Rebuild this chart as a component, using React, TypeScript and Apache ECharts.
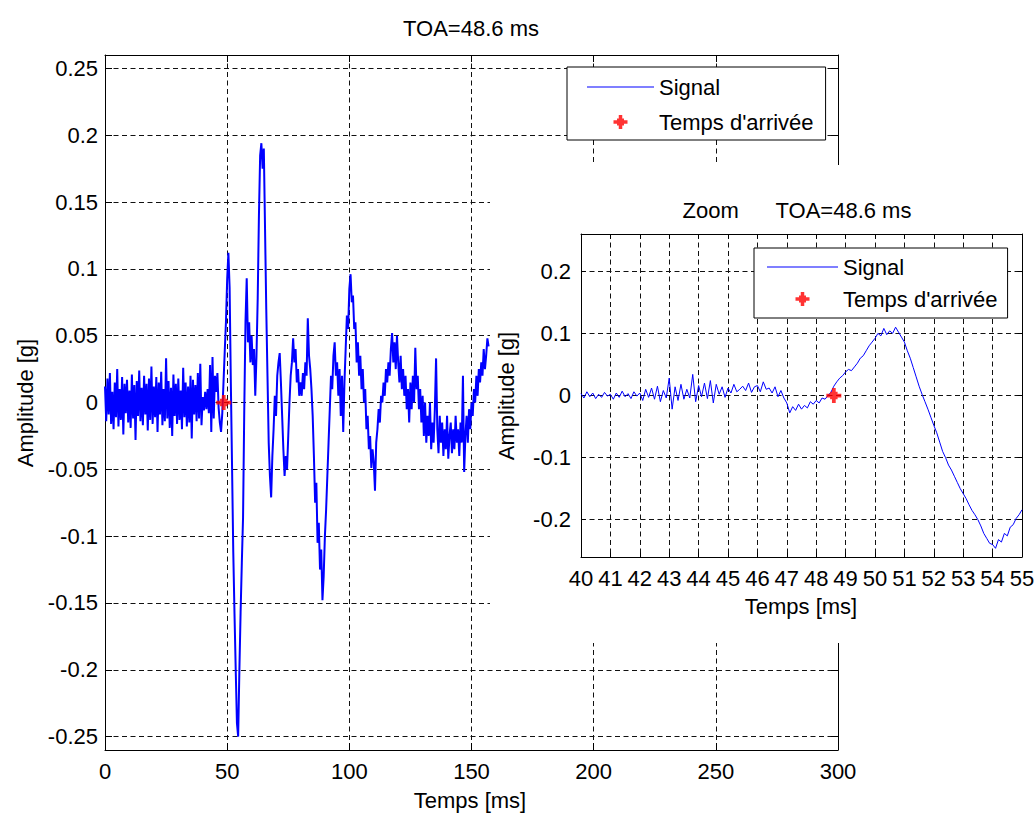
import React, { useEffect, useRef } from 'react';
import * as echarts from 'echarts';

// ---------------- DATA ----------------
// Main recording: amplitude in milli-g, one sample every 0.5 ms starting at 0 ms
const MAIN_START_MS = 0;
const MAIN_STEP_MS = 0.5;
const mainSignalMg = [
  // 0 - 9.5 ms
  12, -14, 18, -9, 22, -16, 8, -20, 15, -11, 25, -18, 10, -13, 19, -24, 14, -8, 17, -15,
  // 10 - 19.5
  9, -19, 21, -12, 13, -28, 16, -10, 24, -14, 11, -17, 20, -9, 14, -21, 18, -13, 27, -16,
  // 20 - 29.5
  12, -11, 19, -22, 15, -9, 23, -17, 10, -14, 33, -12, 16, -19, 11, -25, 21, -10, 14, -16,
  // 30 - 39.5
  18, -13, 9, -20, 26, -11, 15, -18, 12, -15, 20, -27, 17, -9, 13, -14, 22, -12, 29, -17,
  // 40 - 46.5
  4, -6, 8, -5, 10, -8, 28, -22, 34, -12, 20, 8, 22, -4,
  // 47 - 56.5
  -15, -22, -8, 15, 38, 60, 92, 112, 86, 15, -48, -112, -158, -200, -240, -250, -200, -157, -120, -86,
  // 57 - 66.5
  -5, 60, 93, 45, 60, 30, 50, 28, 40, 5, 35, 78, 140, 185, 194, 175, 190, 130, 70, 20,
  // 67 - 76.5
  -30, -55, -71, -40, -20, 5, -10, 20, 30, 37, 15, -10, -35, -55, -40, -50, -25, 0, 20, 30,
  // 77 - 86.5
  48, 30, 40, 15, 25, 5, 15, 5, 22, 10, 30, 20, 63, 35, 25, 10, -10, -40, -75, -60,
  // 87 - 96.5
  -105, -90, -125, -110, -148, -130, -100, -80, -55, -30, -5, 20, 10, 35, 45, 20, 30, 5, 25, -10,
  // 97 - 106.5
  20, -22, 15, 40, 65, 55, 85, 96, 75, 80, 55, 60, 30, 45, 20, 35, 10, 25, 0, 10,
  // 107 - 116.5
  -20, -10, -35, -25, -49, -35, -45, -66, -30, -20, -5, -15, 5, 0, 15, 5, 25, 15, 30, 20,
  // 117 - 126.5
  40, 52, 30, 45, 25, 50, 30, 15, 35, 10, 25, 5, 20, -5, 10, -15, 15, -5, 20, 0,
  // 127 - 136.5
  41, 10, 20, -5, 10, -15, 5, -25, 0, -30, -10, -25, 0, -35, -15, -30, -5, 33, -20, -38,
  // 137 - 146.5
  -10, -30, -15, -40, -20, -35, -10, -42, -25, -15, -38, -20, -35, -10, -30, -20, -40, -15, -30, 20,
  // 147 - 157
  -52, -25, -10, -30, -5, -20, 0, -10, 10, 0, 20, 5, 25, 15, 30, 20, 40, 25, 35, 48, 42,
];

// Zoom window: amplitude in milli-g, one sample every 0.1 ms from 40 ms to 55 ms
const INSET_START_MS = 40;
const INSET_STEP_MS = 0.1;
const insetSignalMg = [
  3, -4, 6, -2, 4, -5, 2, -3, 5, -1,
  2, -6, 4, -3, 7, -2, 3, -5, 6, -1,
  4, -8, 10, -3, 12, -6, 15, -10, 8, -4,
  28, -22, 14, -8, 18, -6, 10, -4, 34, -10,
  16, -2, 20, -5, 24, -12, 18, 2, 14, -3,
  12, 4, 18, 6, 10, 15, 8, 20, 5, 14,
  16, 6, 22, 10, 12, 4, 14, -2, 8, -4,
  -12, -28, -18, -24, -14, -22, -16, -20, -10, -14,
  -8, -12, -4, -6, 0, 5, 15, 22, 28, 32,
  38, 42, 40, 46, 52, 60, 64, 72, 80, 86,
  92, 100, 96, 108, 98, 104, 100, 110, 102, 94,
  86, 72, 60, 45, 30, 15, 2, -10, -22, -35,
  -48, -60, -75, -90, -100, -112, -120, -130, -140, -150,
  -158, -166, -176, -185, -192, -200, -210, -222, -230, -238,
  -240, -246, -232, -236, -222, -226, -212, -208, -198, -192,
  -184,
];

// Time of arrival marker
const toaTimeMs = [48.6];
const toaAmpG = [0];

// Axes
const mainXRange = [0, 300];
const mainXInterval = 50;
const mainYRange = [-0.26, 0.26];
const mainYTicks = [-0.25, -0.2, -0.15, -0.1, -0.05, 0, 0.05, 0.1, 0.15, 0.2, 0.25];
const insetXRange = [40, 55];
const insetXInterval = 1;
const insetYRange = [-0.26, 0.26];
const insetYTicks = [-0.2, -0.1, 0, 0.1, 0.2];

const mainTitle = 'TOA=48.6 ms';
const insetTitle = 'Zoom\u00a0\u00a0\u00a0\u00a0\u00a0\u00a0TOA=48.6 ms';
const xName = 'Temps [ms]';
const yName = 'Amplitude [g]';
const signalName = 'Signal';
const toaName = "Temps d'arrivée";

// ---------------- STYLE ----------------
const FONT = "'Liberation Sans', Arial, Helvetica, sans-serif";
const FS = 22;
const BLUE = '#0000ff';
const RED = '#ff0000';
const TOA_SYMBOL = 'path://M4.5,0H7.5V3H9V4.5H12V7.5H9V9H7.5V12H4.5V9H3V7.5H0V4.5H3V3H4.5Z';
const LINE_ICON = 'path://M0,0H70V1.1H0Z';

const fmt = (v: number) => String(Math.round(v * 1000) / 1000);

const gridLine = { show: true, lineStyle: { color: '#111', type: [5, 3.5], width: 1 } };
const axisLineStyle = { show: true, onZero: false, lineStyle: { color: '#000', width: 1 } };

function xAxisDef(grid: number, range: number[], interval: number, pos: string, labels: boolean, tickLen: number, z: number) {
  return {
    type: 'value', gridIndex: grid, min: range[0], max: range[1], interval, position: pos, z,
    axisLine: axisLineStyle,
    axisTick: { show: true, inside: true, length: tickLen, lineStyle: { color: '#000', width: 1 } },
    axisLabel: { show: labels, margin: 10, color: '#000', fontSize: FS, fontFamily: FONT, formatter: fmt },
    splitLine: labels ? gridLine : { show: false },
  };
}

function yAxisDef(grid: number, range: number[], ticks: number[], pos: string, labels: boolean, tickLen: number, margin: number, z: number) {
  return {
    type: 'value', gridIndex: grid, min: range[0], max: range[1], position: pos, z,
    axisLine: axisLineStyle,
    axisTick: { show: true, inside: true, length: tickLen, customValues: ticks, lineStyle: { color: '#000', width: 1 } },
    axisLabel: { show: labels, customValues: ticks, margin, color: '#000', fontSize: FS, fontFamily: FONT, formatter: fmt },
    splitLine: labels ? gridLine : { show: false },
  };
}

function text(t: string, x: number, y: number, rotation = 0) {
  return {
    type: 'text', x, y, rotation, z: 30, silent: true,
    style: { text: t, fill: '#000', fontSize: FS, fontFamily: FONT, align: 'center', verticalAlign: 'middle' },
  };
}

export default function App() {
  const ref = useRef<HTMLDivElement>(null);

  useEffect(() => {
    if (!ref.current) return;
    const chart = echarts.init(ref.current, undefined, { renderer: 'svg' });

    const mainData = mainSignalMg.map((v, i) => [MAIN_START_MS + i * MAIN_STEP_MS, v / 1000]);
    const insetData = insetSignalMg.map((v, i) => [
      Math.round((INSET_START_MS + i * INSET_STEP_MS) * 10) / 10,
      v / 1000,
    ]);
    const toaData = toaTimeMs.map((t, i) => [t, toaAmpG[i]]);

    const legendCommon = {
      orient: 'vertical',
      backgroundColor: '#fff',
      borderColor: '#000',
      borderWidth: 1,
      borderRadius: 0,
      itemHeight: 14,
      selectedMode: false,
      z: 20,
      textStyle: { color: '#000', fontSize: FS, fontFamily: FONT, lineHeight: 22 },
      data: [
        { name: signalName, icon: LINE_ICON, itemStyle: { color: BLUE } },
        { name: toaName, icon: TOA_SYMBOL, itemStyle: { color: RED } },
      ],
    };

    chart.setOption({
      animation: false,
      backgroundColor: '#fff',
      textStyle: { fontFamily: FONT },
      grid: [
        { left: 105, top: 55, width: 733, height: 695, containLabel: false, outerBoundsMode: 'none' },
        { left: 581, top: 234, width: 441, height: 323, containLabel: false, outerBoundsMode: 'none', z: 10 },
      ],
      xAxis: [
        xAxisDef(0, mainXRange, mainXInterval, 'bottom', true, 7, 0),
        xAxisDef(0, mainXRange, mainXInterval, 'top', false, 7, 0),
        xAxisDef(1, insetXRange, insetXInterval, 'bottom', true, 4.5, 10),
        xAxisDef(1, insetXRange, insetXInterval, 'top', false, 4.5, 10),
      ],
      yAxis: [
        yAxisDef(0, mainYRange, mainYTicks, 'left', true, 7, 7, 0),
        yAxisDef(0, mainYRange, mainYTicks, 'right', false, 7, 7, 0),
        yAxisDef(1, insetYRange, insetYTicks, 'left', true, 4.5, 10, 10),
        yAxisDef(1, insetYRange, insetYTicks, 'right', false, 4.5, 10, 10),
      ],
      legend: [
        { ...legendCommon, left: 567, top: 67, padding: [9, 12, 7, 20], itemGap: 13, itemWidth: 67 },
        { ...legendCommon, left: 754, top: 248, padding: [8, 10, 8, 13], itemGap: 10, itemWidth: 71 },
      ],
      graphic: {
        elements: [
          { type: 'rect', z: 5, silent: true, shape: { x: 490, y: 165, width: 545, height: 478 }, style: { fill: '#fff' } },
          text(mainTitle, 471, 28),
          text(xName, 470, 800),
          text(yName, 25, 403, Math.PI / 2),
          text(insetTitle, 797, 210),
          text(xName, 801, 606),
          text(yName, 506, 396, Math.PI / 2),
        ],
      },
      series: [
        {
          type: 'line', name: signalName, xAxisIndex: 0, yAxisIndex: 0, data: mainData,
          symbol: 'none', lineStyle: { color: BLUE, width: 2 }, itemStyle: { color: BLUE }, z: 2,
        },
        {
          type: 'scatter', name: toaName, xAxisIndex: 0, yAxisIndex: 0, data: toaData,
          symbol: TOA_SYMBOL, symbolSize: 15, itemStyle: { color: RED }, z: 3,
        },
        {
          type: 'line', name: signalName, xAxisIndex: 2, yAxisIndex: 2, data: insetData,
          symbol: 'none', lineStyle: { color: BLUE, width: 1 }, itemStyle: { color: BLUE }, z: 12,
        },
        {
          type: 'scatter', name: toaName, xAxisIndex: 2, yAxisIndex: 2, data: toaData,
          symbol: TOA_SYMBOL, symbolSize: 15, itemStyle: { color: RED }, z: 13,
        },
      ],
    });

    return () => chart.dispose();
  }, []);

  return (
    <div
      ref={ref}
      style={{ position: 'absolute', left: 0, top: 0, width: 1035, height: 813, background: '#fff' }}
    />
  );
}
